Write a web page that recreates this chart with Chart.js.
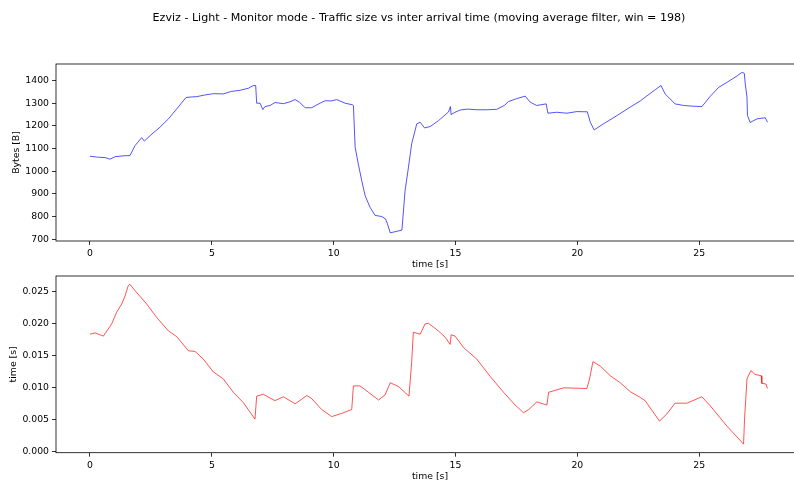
<!DOCTYPE html>
<html>
<head>
<meta charset="utf-8">
<script src="https://cdn.jsdelivr.net/npm/chart.js@4.4.1/dist/chart.umd.min.js"></script>
<style>
  html, body { margin: 0; padding: 0; background: #fff; overflow: hidden; width: 794px; height: 486px; }
  #wrap { position: relative; width: 794px; height: 486px; overflow: hidden; }
  canvas { position: absolute; left: 0; top: 0; }
</style>
</head>
<body>
<div id="wrap">
  <canvas id="sizeChart" width="838" height="270"></canvas>
  <canvas id="iatChart" width="838" height="486"></canvas>
</div>
<script>
// values
const sizeTime = [0.00, 0.30, 0.62, 0.82, 1.03, 1.40, 1.64, 1.85, 2.12, 2.18, 2.23, 2.50, 2.87, 3.22, 3.56, 3.94, 4.10, 4.38, 4.70, 5.06,
  5.47, 5.80, 6.16, 6.50, 6.70, 6.80, 6.84, 6.98, 7.09, 7.18, 7.39, 7.59, 7.94, 8.20, 8.42, 8.60, 8.83, 9.10, 9.40, 9.65,
  9.90, 10.13, 10.47, 10.77, 10.81, 10.88, 11.01, 11.15, 11.29, 11.49, 11.70, 11.97, 12.12, 12.20, 12.32, 12.80, 12.93, 13.07, 13.20, 13.41,
  13.55, 13.73, 13.96, 14.30, 14.71, 14.79, 14.82, 14.98, 15.19, 15.50, 15.87, 16.30, 16.69, 17.00, 17.17, 17.50, 17.86, 18.06, 18.33, 18.72,
  18.79, 19.15, 19.57, 19.98, 20.41, 20.53, 20.69, 21.07, 21.62, 22.17, 22.58, 22.85, 23.20, 23.43, 23.60, 24.01, 24.36, 24.70, 25.11, 25.45,
  25.80, 26.14, 26.55, 26.75, 26.85, 26.89, 26.96, 26.98, 27.09, 27.37, 27.71, 27.80];
const sizeBytes = [1066, 1062, 1060, 1053, 1064, 1068, 1069, 1113, 1148, 1140, 1133, 1160, 1194, 1231, 1275, 1325, 1327, 1329, 1336, 1342,
  1341, 1352, 1357, 1366, 1378, 1378, 1300, 1300, 1272, 1285, 1290, 1303, 1298, 1306, 1316, 1304, 1280, 1280, 1298, 1311,
  1310, 1316, 1300, 1293, 1290, 1106, 1032, 959, 892, 841, 805, 800, 790, 770, 728, 740, 915, 1018, 1121, 1209,
  1216, 1191, 1197, 1223, 1261, 1285, 1250, 1260, 1270, 1274, 1271, 1271, 1273, 1290, 1307, 1320, 1331, 1305, 1290, 1297,
  1256, 1260, 1256, 1263, 1262, 1216, 1182, 1209, 1245, 1283, 1310, 1332, 1360, 1378, 1341, 1297, 1290, 1287, 1285, 1330,
  1370, 1392, 1420, 1436, 1432, 1385, 1327, 1246, 1215, 1231, 1236, 1216];

const iatTime = [0.00, 0.21, 0.55, 0.89, 1.09, 1.30, 1.44, 1.57, 1.64, 1.85, 2.33, 2.74, 3.22, 3.56, 4.04, 4.31, 4.65, 5.06, 5.47, 5.88,
  6.29, 6.77, 6.84, 7.11, 7.39, 7.59, 7.94, 8.42, 8.90, 9.10, 9.51, 9.92, 10.33, 10.74, 10.81, 11.08, 11.43, 11.84, 12.11, 12.32,
  12.66, 13.09, 13.20, 13.27, 13.55, 13.75, 13.89, 14.30, 14.58, 14.78, 14.82, 14.98, 15.33, 15.87, 16.42, 16.97, 17.45, 17.79, 18.00, 18.34,
  18.75, 18.82, 19.44, 20.39, 20.50, 20.64, 20.94, 21.35, 21.76, 22.17, 22.58, 22.78, 23.37, 23.67, 24.01, 24.49, 25.11, 25.45, 26.14, 26.82,
  26.86, 26.96, 27.12, 27.29, 27.54, 27.57, 27.74, 27.80];
const iatSeconds = [0.0184, 0.0186, 0.0181, 0.0200, 0.0218, 0.0231, 0.0244, 0.0260, 0.0262, 0.0252, 0.0231, 0.0210, 0.0189, 0.0180, 0.0158, 0.0157, 0.0145, 0.0125, 0.0114, 0.0093,
  0.0077, 0.0051, 0.0087, 0.0090, 0.0084, 0.0080, 0.0086, 0.0075, 0.0088, 0.0083, 0.0066, 0.0055, 0.0060, 0.0066, 0.0103, 0.0103, 0.0093, 0.0081, 0.0089, 0.0108,
  0.0102, 0.0087, 0.0140, 0.0187, 0.0184, 0.0200, 0.0201, 0.0189, 0.0179, 0.0168, 0.0183, 0.0181, 0.0163, 0.0145, 0.0118, 0.0093, 0.0073, 0.0061, 0.0066, 0.0078,
  0.0073, 0.0093, 0.0100, 0.0099, 0.0114, 0.0141, 0.0134, 0.0119, 0.0108, 0.0094, 0.0085, 0.0080, 0.0048, 0.0059, 0.0076, 0.0076, 0.0086, 0.0072, 0.0040, 0.0012,
  0.0051, 0.0114, 0.0127, 0.0121, 0.0119, 0.0107, 0.0106, 0.0099];

const xTicks = [0, 5, 10, 15, 20, 25];
const sizeTicks = [700, 800, 900, 1000, 1100, 1200, 1300, 1400];
const iatTicks = [0.000, 0.005, 0.010, 0.015, 0.020, 0.025];

const FONT = 'DejaVu Sans';
const TICK_SIZE = 9.3;
const TITLE = 'Ezviz - Light - Monitor mode - Traffic size vs inter arrival time (moving average filter, win = 198)';

// matplotlib style box round the plot area
const framePlugin = {
  id: 'frame',
  afterDraw(chart) {
    const { ctx, chartArea: a } = chart;
    ctx.save();
    ctx.strokeStyle = '#000';
    ctx.lineWidth = 0.8;
    ctx.strokeRect(a.left, a.top, a.right - a.left, a.bottom - a.top);
    ctx.restore();
  }
};

// figure title (suptitle), centred on the figure rather than on the axes
const suptitlePlugin = {
  id: 'suptitle',
  afterDraw(chart) {
    const ctx = chart.ctx;
    ctx.save();
    ctx.fillStyle = '#000';
    ctx.font = '11.1px "' + FONT + '"';
    ctx.textAlign = 'center';
    ctx.textBaseline = 'middle';
    ctx.fillText(TITLE, 419, 18);
    ctx.restore();
  }
};

function toPoints(xs, ys) {
  return xs.map((x, i) => ({ x: x, y: ys[i] }));
}

function makeChart(id, opts) {
  const plugins = [framePlugin];
  if (opts.withTitle) plugins.push(suptitlePlugin);
  return new Chart(document.getElementById(id), {
    type: 'line',
    data: {
      datasets: [{
        data: toPoints(opts.xs, opts.ys),
        borderColor: opts.color,
        borderWidth: 0.8,
        pointRadius: 0,
        tension: 0
      }]
    },
    options: {
      responsive: false,
      animation: false,
      layout: { padding: { top: opts.padTop, right: 34, left: 0, bottom: 0 } },
      plugins: {
        legend: { display: false },
        tooltip: { enabled: false },
        title: { display: false }
      },
      scales: {
        x: {
          type: 'linear',
          min: -1.395,
          max: 29.3,
          afterBuildTicks: s => { s.ticks = xTicks.map(v => ({ value: v })); },
          afterFit: s => { s.height = opts.xHeight; },
          border: { display: false },
          grid: { drawOnChartArea: false, drawTicks: true, tickLength: 4, color: '#000', lineWidth: 0.8 },
          ticks: { color: '#000', padding: 3, maxRotation: 0, font: { family: FONT, size: TICK_SIZE } },
          title: { display: true, text: 'time [s]', color: '#000', padding: { top: 0, bottom: opts.xTitlePad }, font: { family: FONT, size: TICK_SIZE } }
        },
        y: {
          type: 'linear',
          min: opts.yMin,
          max: opts.yMax,
          afterBuildTicks: s => { s.ticks = opts.yTicks.map(v => ({ value: v })); },
          afterFit: s => { s.width = 56; },
          border: { display: false },
          grid: { drawOnChartArea: false, drawTicks: true, tickLength: 4, color: '#000', lineWidth: 0.8 },
          ticks: { color: '#000', padding: 3, font: { family: FONT, size: TICK_SIZE }, callback: opts.yFormat },
          title: { display: true, text: opts.yLabel, color: '#000', padding: { top: opts.yTitlePad, bottom: 0 }, font: { family: FONT, size: TICK_SIZE } }
        }
      }
    },
    plugins: plugins
  });
}

makeChart('sizeChart', {
  xs: sizeTime, ys: sizeBytes, color: 'rgba(0, 0, 255, 0.85)', withTitle: true,
  padTop: 64, xHeight: 29, xTitlePad: 0,
  yMin: 692, yMax: 1473, yTicks: sizeTicks, yLabel: 'Bytes [B]', yTitlePad: 11,
  yFormat: v => String(v)
});

makeChart('iatChart', {
  xs: iatTime, ys: iatSeconds, color: 'rgba(255, 0, 0, 0.85)', withTitle: false,
  padTop: 276, xHeight: 33.3, xTitlePad: 4,
  yMin: -0.00015, yMax: 0.0275, yTicks: iatTicks, yLabel: 'time [s]', yTitlePad: 8,
  yFormat: v => v.toFixed(3)
});
</script>
</body>
</html>
